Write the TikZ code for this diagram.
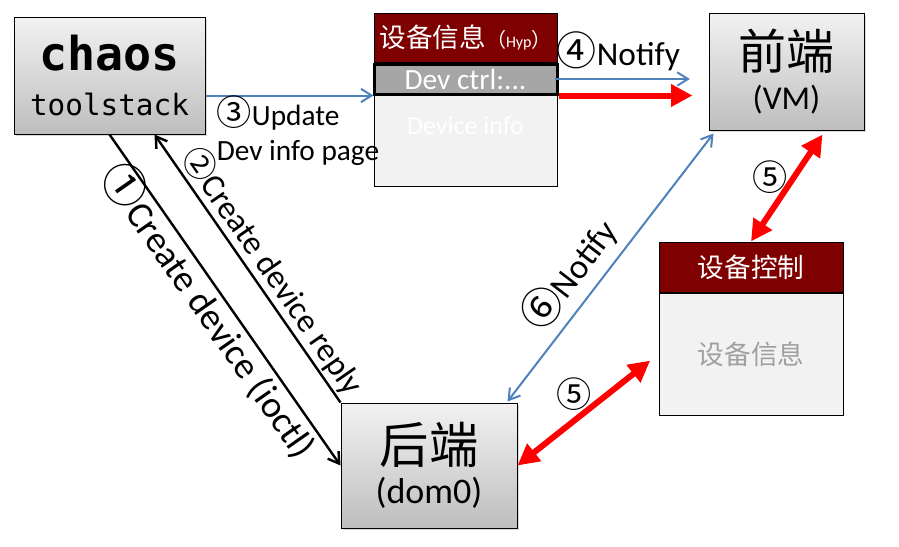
\documentclass[tikz,border=0pt]{standalone}
\usepackage{fontspec}
\setmainfont{Carlito}
\newfontfamily\cjk{Noto Sans CJK SC}
\newfontfamily\mono{DejaVu Sans Mono}
\usetikzlibrary{positioning,calc,arrows.meta,shadows}
\definecolor{boxtop}{RGB}{242,242,242}
\definecolor{boxbot}{RGB}{190,190,190}
\definecolor{hdred}{RGB}{127,0,0}
\definecolor{paper}{RGB}{242,242,242}
\definecolor{ctrlgray}{RGB}{166,166,166}
\definecolor{fade}{RGB}{160,160,160}
\definecolor{nblue}{RGB}{79,129,189}
\newcommand\cnum[1]{\scalebox{1.2}{\cjk #1}}
\begin{document}
\begin{tikzpicture}[x=.75pt,y=-.75pt,
  >={Straight Barb[length=8pt,width=10pt]},
  endbox/.style={draw,line width=.75pt,top color=boxtop,bottom color=boxbot,
    drop shadow={opacity=.3,shadow xshift=1.5pt,shadow yshift=-1.5pt},
    align=center,inner sep=0pt},
  headbar/.style={draw,line width=.75pt,fill=hdred,text=white,inner sep=0pt},
  pagebody/.style={draw,line width=.75pt,fill=paper,inner sep=0pt},
  notify/.style={draw=nblue,line width=1.5pt},
  call/.style={draw=black,line width=1.8pt,->},
  hot/.style={draw=red,line width=4.5pt,-{Triangle[length=16pt,width=16pt]}},
  hotboth/.style={draw=red,line width=4.5pt,
    {Triangle[length=16pt,width=16pt]}-{Triangle[length=16pt,width=16pt]}}]
\useasboundingbox (0,0) rectangle (899,546);

% the three ends
\node[endbox,minimum width=191*.75pt,minimum height=117*.75pt,
  font=\mono\fontsize{22}{34}\selectfont] (chaos) at (109.5,75.5)
  {{\fontsize{35}{34}\selectfont\bfseries chaos}\\toolstack};
\node[endbox,minimum width=155*.75pt,minimum height=117*.75pt,
  font=\fontsize{25}{30}\selectfont] (fe) at (786.5,71.5)
  {{\cjk\fontsize{36}{30}\selectfont 前端}\\(VM)};
\node[endbox,minimum width=176*.75pt,minimum height=125*.75pt,
  font=\fontsize{27}{30}\selectfont] (be) at (429,465.5)
  {{\cjk\fontsize{37}{30}\selectfont 后端}\\(dom0)};

% device info page (Hyp)
\node[headbar,minimum width=183*.75pt,minimum height=49*.75pt] (hyphead) at (465.5,37.5)
  {{\cjk\fontsize{20}{24}\selectfont 设备信息}{\cjk\fontsize{15}{18}\selectfont （}{\fontsize{12}{14}\selectfont Hyp}{\cjk\fontsize{15}{18}\selectfont ）}};
\node[pagebody,minimum width=183*.75pt,minimum height=93*.75pt,
  below=30*.75pt of hyphead] (hypbody) {};
\node[draw,line width=2.25pt,fill=ctrlgray,text=white,inner sep=0pt,
  minimum width=183*.75pt,minimum height=30*.75pt,below=0pt of hyphead,
  font=\fontsize{22}{24}\selectfont] (hypctrl) {Dev ctrl:...};
\node[text=white,font=\fontsize{19.5}{22}\selectfont] (devinfo)
  at ($(hypbody.north)+(0,33)$) {Device info};

% device control page
\node[headbar,minimum width=184*.75pt,minimum height=50*.75pt,
  font=\cjk\fontsize{20}{24}\selectfont] (ctlhead) at (751,267) {设备控制};
\node[pagebody,minimum width=184*.75pt,minimum height=122*.75pt,below=0pt of ctlhead,
  text=fade,font=\cjk\fontsize{20}{24}\selectfont] (ctlbody) {设备信息};

% connectors
\draw[notify,->] ($(chaos.east)+(0,20)$) coordinate (upd) -- (upd -| hypbody.west);
\node[anchor=north west,align=left,inner sep=0pt,font=\fontsize{22}{26}\selectfont]
  (updtxt) at ($(upd)+(11,0)$) {\cnum{③}Update\\Dev info page};
\draw[notify,->,shorten <=-3pt,shorten >=14pt] (hypctrl.east) --
  node[pos=.4,above=2pt,font=\fontsize{25}{28}\selectfont] (n4) {\cnum{④}Notify}
  (hypctrl.east -| fe.west);
\draw[hot,shorten >=12pt] (hypctrl.south east) -- (hypctrl.south east -| fe.west);
\draw[call] (chaos.south) --
  node[sloped,below=-8pt,pos=.5,font=\fontsize{28}{30}\selectfont] (n1) {\cnum{①}Create device (ioctl)}
  (be.west);
\draw[call] (be.north west) --
  node[sloped,above=-2pt,pos=.45,font=\fontsize{25}{28}\selectfont] (n2) {{\cjk ②}Create device reply}
  ($(chaos.south)+(45,0)$);
\draw[notify,<->] ($(be.north east)+(-10,-1)$) --
  node[sloped,above=3pt,pos=.41,font=\fontsize{26}{30}\selectfont] (n6) {\cnum{⑥}Notify}
  ($(fe.south west)+(5,3)$);
\draw[hotboth] (ctlhead.north) --
  node[pos=.6,left=-1pt,font=\fontsize{22}{24}\selectfont] (n5a) {\cnum{⑤}}
  ($(fe.south)+(36,4)$);
\draw[hotboth,shorten >=8pt] (be.east) --
  node[pos=.4,above=2pt,font=\fontsize{22}{24}\selectfont] (n5b) {\cnum{⑤}}
  (ctlbody.west);
\end{tikzpicture}
\end{document}
